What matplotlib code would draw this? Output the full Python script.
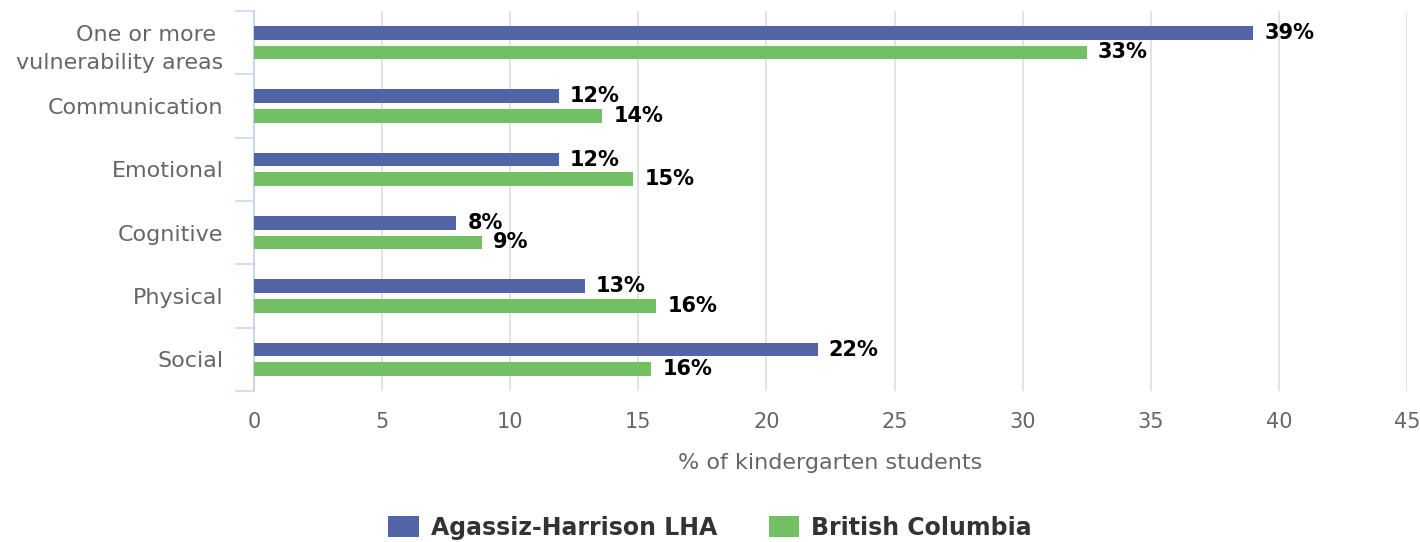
import numpy as np
import matplotlib.pyplot as plt

categories = ['One or more \nvulnerability areas', 'Communication', 'Emotional',
              'Cognitive', 'Physical', 'Social']
agassiz = [39.0, 11.9, 11.9, 7.9, 12.9, 22.0]
bc = [32.5, 13.6, 14.8, 8.9, 15.7, 15.5]
agassiz_labels = ['39%', '12%', '12%', '8%', '13%', '22%']
bc_labels = ['33%', '14%', '15%', '9%', '16%', '16%']
xticks = [0, 5, 10, 15, 20, 25, 30, 35, 40, 45]

blue = '#5264a6'
green = '#72c063'

fig = plt.figure(figsize=(14.2, 5.42), dpi=100)
ax = fig.add_axes([254 / 1420, 1 - 391 / 542, (1407 - 254) / 1420, 380 / 542])

y = np.arange(len(categories))
h = 0.22
off = 0.155
ax.barh(y - off, agassiz, height=h, color=blue, label='Agassiz-Harrison LHA', zorder=3)
ax.barh(y + off, bc, height=h, color=green, label='British Columbia', zorder=3)

for yi, v, t in zip(y, agassiz, agassiz_labels):
    ax.annotate(t, (v, yi - off), xytext=(8, 0), textcoords='offset points',
                va='center', ha='left', fontsize=15, fontweight='bold', color='#000000')
for yi, v, t in zip(y, bc, bc_labels):
    ax.annotate(t, (v, yi + off), xytext=(8, 0), textcoords='offset points',
                va='center', ha='left', fontsize=15, fontweight='bold', color='#000000')

ax.set_xlim(0, 45)
ax.set_ylim(len(categories) - 0.5, -0.5)
ax.set_xticks(xticks)
ax.set_xticklabels([str(t) for t in xticks], fontsize=15, color='#666666')
ax.set_yticks(y)
ax.set_yticklabels(categories, fontsize=16, color='#666666', linespacing=1.55)
ax.set_yticks(np.arange(-0.5, len(categories)), minor=True)
ax.tick_params(axis='y', which='major', length=0, pad=22)
ax.tick_params(axis='y', which='minor', length=14, color='#ccd6eb', width=1.2)
ax.tick_params(axis='x', length=0, pad=15)
ax.grid(axis='x', color='#e0e0e0', linewidth=1.3, zorder=0)

for s in ['top', 'right', 'bottom']:
    ax.spines[s].set_visible(False)
ax.spines['left'].set_color('#ccd6eb')
ax.spines['left'].set_linewidth(1.5)

ax.set_xlabel('% of kindergarten students', fontsize=16, color='#666666', labelpad=15)

fig.legend(loc='center', bbox_to_anchor=(710 / 1420, 1 - 528 / 542), ncol=2,
           frameon=False, prop={'size': 17, 'weight': 'bold'}, handlelength=1.3,
           handleheight=1.0, columnspacing=2.2, handletextpad=0.5,
           labelcolor='#333333')

fig.savefig('out.png', dpi=100)
